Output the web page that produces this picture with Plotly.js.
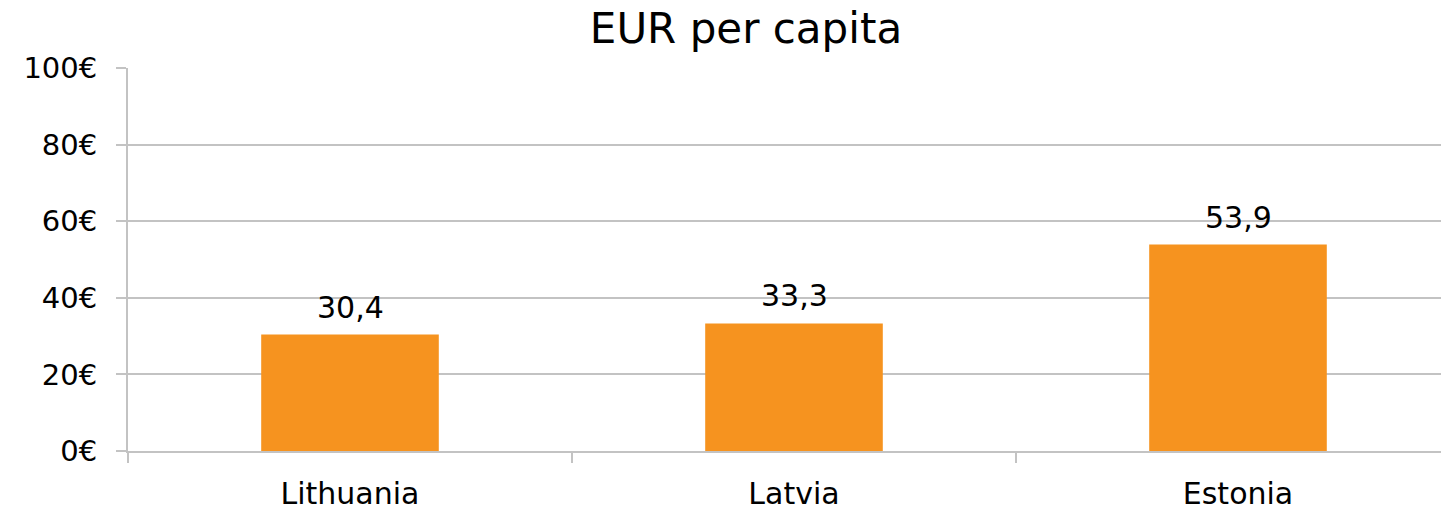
<!DOCTYPE html>
<html>
<head>
<meta charset="utf-8">
<script src="https://cdn.plot.ly/plotly-3.0.1.min.js"></script>
<style>
  html, body { margin: 0; padding: 0; background: #fff; overflow: hidden; }
  #chart { width: 1441px; height: 510px; }
</style>
</head>
<body>
<div id="chart"></div>
<script>
const categories = ["Lithuania", "Latvia", "Estonia"];
const values = [30.4, 33.3, 53.9];
const yTickValues = [0, 20, 40, 60, 80, 100];
const yTickLabels = ["0€", "20€", "40€", "60€", "80€", "100€"];
const chartTitle = "EUR per capita";

const FONT = "DejaVu Sans, Verdana, sans-serif";
const GRID = "#c3c3c3";

const trace = {
  type: "bar",
  x: categories,
  y: values,
  marker: { color: "#F6931F" },
  hoverinfo: "x+y",
  showlegend: false
};

const annotations = categories.map((c, i) => ({
  x: c,
  y: values[i],
  xref: "x",
  yref: "y",
  text: values[i].toFixed(1).replace(".", ","),
  showarrow: false,
  yanchor: "bottom",
  yshift: 8,
  font: { family: FONT, size: 30, color: "#000" }
}));

const layout = {
  width: 1441,
  height: 510,
  margin: { l: 128, r: 0, t: 68, b: 59 },
  paper_bgcolor: "#fff",
  plot_bgcolor: "#fff",
  separators: ",.",
  bargap: 0.6,
  title: {
    text: chartTitle,
    font: { family: FONT, size: 42, color: "#000" },
    xref: "container",
    yref: "container",
    x: 746 / 1441,
    xanchor: "center",
    y: 1 - 28 / 510,
    yanchor: "middle"
  },
  xaxis: {
    type: "category",
    range: [-0.5, -0.5 + 1313 / 444],
    tickson: "boundaries",
    ticks: "outside",
    ticklen: 10,
    tickwidth: 2,
    tickcolor: GRID,
    showline: true,
    linecolor: GRID,
    linewidth: 2,
    showgrid: false,
    zeroline: false,
    ticklabelstandoff: 15,
    tickfont: { family: FONT, size: 30, color: "#000" },
    fixedrange: true
  },
  yaxis: {
    range: [0, 100],
    tickmode: "array",
    tickvals: yTickValues,
    ticktext: yTickLabels,
    ticks: "outside",
    ticklen: 10,
    tickwidth: 2,
    tickcolor: GRID,
    showline: true,
    linecolor: GRID,
    linewidth: 2,
    showgrid: true,
    gridcolor: GRID,
    gridwidth: 2,
    zeroline: false,
    ticklabelstandoff: 13,
    tickfont: { family: FONT, size: 29, color: "#000" },
    fixedrange: true
  },
  annotations: annotations
};

Plotly.newPlot("chart", [trace], layout, { displayModeBar: false, staticPlot: true });
</script>
</body>
</html>
